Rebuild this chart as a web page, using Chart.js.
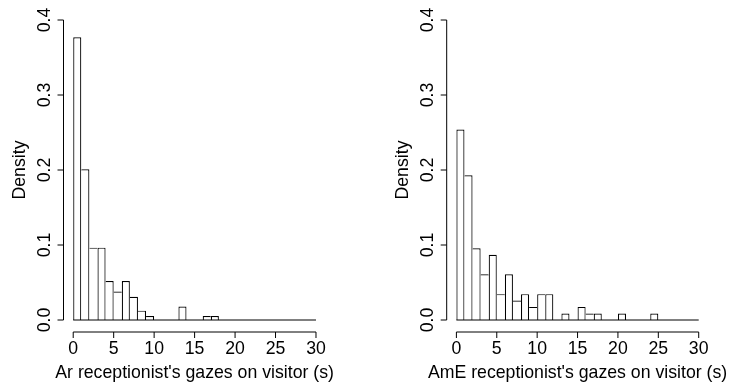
<!DOCTYPE html>
<html>
<head>
<meta charset="utf-8">
<script src="https://cdn.jsdelivr.net/npm/chart.js@4.4.1/dist/chart.umd.min.js"></script>
<style>
  body { margin: 0; background: #fff; }
  .panel { position: absolute; top: 0; width: 366px; height: 389px; }
</style>
</head>
<body>
<div class="panel" style="left:0"><canvas id="arChart" width="366" height="389"></canvas></div>
<div class="panel" style="left:366px"><canvas id="ameChart" width="366" height="389"></canvas></div>
<script>
// bin centres (1 s wide bins from 0 to 30)
const binMids = [0.5, 1.5, 2.5, 3.5, 4.5, 5.5, 6.5, 7.5, 8.5, 9.5,
  10.5, 11.5, 12.5, 13.5, 14.5, 15.5, 16.5, 17.5, 18.5, 19.5,
  20.5, 21.5, 22.5, 23.5, 24.5, 25.5, 26.5, 27.5, 28.5, 29.5];

const arDensity = [0.377, 0.201, 0.0965, 0.0965, 0.052, 0.038, 0.052, 0.031, 0.0125, 0.0053,
  0, 0, 0, 0.018, 0, 0, 0.0053, 0.0053, 0, 0,
  0, 0, 0, 0, 0, 0, 0, 0, 0, 0];

const ameDensity = [0.254, 0.193, 0.0956, 0.061, 0.087, 0.0345, 0.061, 0.026, 0.0345, 0.0175,
  0.0345, 0.0345, 0, 0.0087, 0, 0.0175, 0.0087, 0.0087, 0, 0,
  0.0087, 0, 0, 0, 0.0087, 0, 0, 0, 0, 0];

const xTicks = [0, 5, 10, 15, 20, 25, 30];
const yTicks = [0, 0.1, 0.2, 0.3, 0.4];
const yTickLabels = ["0.0", "0.1", "0.2", "0.3", "0.4"];
const yTitle = "Density";
const arTitle = "Ar receptionist's gazes on visitor (s)";
const ameTitle = "AmE receptionist's gazes on visitor (s)";

const FONT = '17.7px "Liberation Sans", Arial, sans-serif';

// R-style axes: detached lines that only span the tick range
const rAxes = {
  id: "rAxes",
  afterDraw(chart, args, opts) {
    const { ctx, chartArea: area } = chart;
    const x = chart.scales.x, y = chart.scales.y;
    const yx = area.left, xy = area.bottom;
    ctx.save();
    ctx.strokeStyle = "#000";
    ctx.fillStyle = "#000";
    ctx.lineWidth = 1;
    ctx.font = FONT;

    ctx.beginPath();
    ctx.moveTo(yx, y.getPixelForValue(yTicks[0]));
    ctx.lineTo(yx, y.getPixelForValue(yTicks[yTicks.length - 1]));
    yTicks.forEach((v) => {
      const py = y.getPixelForValue(v);
      ctx.moveTo(yx, py);
      ctx.lineTo(yx - 6, py);
    });
    ctx.moveTo(x.getPixelForValue(xTicks[0]), xy);
    ctx.lineTo(x.getPixelForValue(xTicks[xTicks.length - 1]), xy);
    xTicks.forEach((v) => {
      const px = x.getPixelForValue(v);
      ctx.moveTo(px, xy);
      ctx.lineTo(px, xy + 6);
    });
    ctx.stroke();

    ctx.textAlign = "center";
    ctx.textBaseline = "alphabetic";
    yTicks.forEach((v, i) => {
      ctx.save();
      ctx.translate(yx - 14, y.getPixelForValue(v));
      ctx.rotate(-Math.PI / 2);
      ctx.fillText(yTickLabels[i], 0, 0);
      ctx.restore();
    });
    ctx.save();
    ctx.translate(yx - 39, (area.top + area.bottom) / 2);
    ctx.rotate(-Math.PI / 2);
    ctx.fillText(yTitle, 0, 0);
    ctx.restore();

    xTicks.forEach((v) => ctx.fillText(String(v), x.getPixelForValue(v), xy + 21.5));
    ctx.fillText(opts.title, (area.left + area.right) / 2, xy + 46);
    ctx.restore();
  },
};

function makeHist(id, values, title, padding) {
  const bars = binMids.map((m, i) => ({ x: m, y: values[i] }));
  return new Chart(document.getElementById(id), {
    type: "bar",
    data: {
      datasets: [
        {
          type: "line",
          data: [{ x: xTicks[0], y: 0 }, { x: xTicks[xTicks.length - 1], y: 0 }],
          borderColor: "#000",
          borderWidth: 1,
          pointRadius: 0,
          order: 0,
        },
        {
          data: bars,
          backgroundColor: "#fff",
          borderColor: "#000",
          // shared edges are drawn once, by the taller neighbour
          borderWidth: (c) => {
            const i = c.dataIndex;
            const cur = values[i];
            const prev = i > 0 ? values[i - 1] : -1;
            const next = i < values.length - 1 ? values[i + 1] : -1;
            return {
              top: 1.2,
              bottom: 0,
              left: prev <= cur ? 1.2 : 0,
              right: next < cur ? 1.2 : 0,
            };
          },
          borderSkipped: false,
          barPercentage: 1,
          categoryPercentage: 1,
          inflateAmount: 0,
          order: 1,
        },
      ],
    },
    options: {
      responsive: false,
      animation: false,
      layout: { padding },
      scales: {
        x: { type: "linear", min: -1.2, max: 31.2, offset: false, display: false },
        y: { type: "linear", min: -0.016, max: 0.416, display: false },
      },
      plugins: {
        legend: { display: false },
        tooltip: { enabled: false },
        rAxes: { title },
      },
    },
    plugins: [rAxes],
  });
}

makeHist("arChart", arDensity, arTitle, { left: 63.5, right: 40.3, top: 8, bottom: 57 });
makeHist("ameChart", ameDensity, ameTitle, { left: 80.7, right: 23.6, top: 8, bottom: 57 });
</script>
</body>
</html>
